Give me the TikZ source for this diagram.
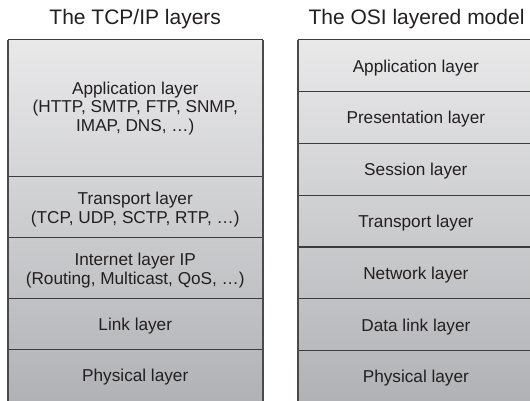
\documentclass[tikz,border=0pt]{standalone}
\usepackage{fontspec}
\setmainfont{Liberation Sans}
\definecolor{rulegray}{HTML}{3C3C3C}
\definecolor{sidegray}{HTML}{4A4A4A}
\definecolor{inkgray}{HTML}{231F20}
\definecolor{shadetop}{HTML}{E9E9EA}
\definecolor{shadebot}{HTML}{B1B2B6}
\begin{document}
\begin{tikzpicture}[x=1pt,y=-1pt,
  cell/.style={rectangle, inner sep=0pt, align=center, text=inkgray, text depth=0pt,
    font=\fontsize{17.2}{18.6}\selectfont},
  heading/.style={inner sep=0pt, anchor=base, text=inkgray, font=\fontsize{21}{24}\selectfont},
  divider/.style={draw=rulegray, line width=1.3pt},
  side/.style={draw=sidegray, line width=2pt}]
\useasboundingbox (0,0) rectangle (530,401);
\clip (0,0) rectangle (530,401);

% column backgrounds
\shade[top color=shadetop, bottom color=shadebot] (8,40) rectangle (262.5,401);
\shade[top color=shadetop, bottom color=shadebot] (297.7,40) rectangle (534,401);

% headings
\node[heading] (ttcp) at (135.2,25) {The TCP/IP layers};
\node[heading] (tosi) at (416.5,25) {The OSI layered model};

% TCP/IP stack
\node[cell, minimum width=254.5pt, minimum height=137pt] (tapp) at (135.25,108.5) {};
\node[cell] (tapptext) at (135.25,106.5)
  {Application layer\\(HTTP, SMTP, FTP, SNMP,\\IMAP, DNS, \dots)};
\node[cell, minimum width=254.5pt, minimum height=61pt] (ttra) at (135.25,207.5)
  {Transport layer\\(TCP, UDP, SCTP, RTP, \dots)};
\node[cell, minimum width=254.5pt, minimum height=61pt] (tint) at (135.25,268.5)
  {Internet layer IP\\(Routing, Multicast, QoS, \dots)};
\node[cell, minimum width=254.5pt, minimum height=51pt] (tlnk) at (135.25,324.5)
  {Link layer};
\node[cell, minimum width=254.5pt, minimum height=51pt] (tphy) at (135.25,375.5)
  {Physical layer};

% OSI stack
\node[cell, minimum width=236.3pt, minimum height=51.7pt] (oapp) at (415.85,65.85) {Application layer};
\node[cell, minimum width=236.3pt, minimum height=51.8pt] (opre) at (415.85,117.6) {Presentation layer};
\node[cell, minimum width=236.3pt, minimum height=52pt] (oses) at (415.85,169.5) {Session layer};
\node[cell, minimum width=236.3pt, minimum height=51.8pt] (otra) at (415.85,221.4) {Transport layer};
\node[cell, minimum width=236.3pt, minimum height=51.7pt] (onet) at (415.85,273.15) {Network layer};
\node[cell, minimum width=236.3pt, minimum height=51.7pt] (odat) at (415.85,324.85) {Data link layer};
\node[cell, minimum width=236.3pt, minimum height=51.7pt] (ophy) at (415.85,376.55) {Physical layer};

% horizontal rules
\foreach \c in {tapp,ttra,tint,tlnk,tphy,oapp,opre,oses,otra,onet,odat,ophy}
  \draw[divider] (\c.north west) -- (\c.north east);

% side borders
\draw[side] (tapp.north west) -- ([yshift=-10pt]tphy.south west);
\draw[side] (tapp.north east) -- ([yshift=-10pt]tphy.south east);
\draw[side] (oapp.north west) -- ([yshift=-10pt]ophy.south west);
\end{tikzpicture}
\end{document}
